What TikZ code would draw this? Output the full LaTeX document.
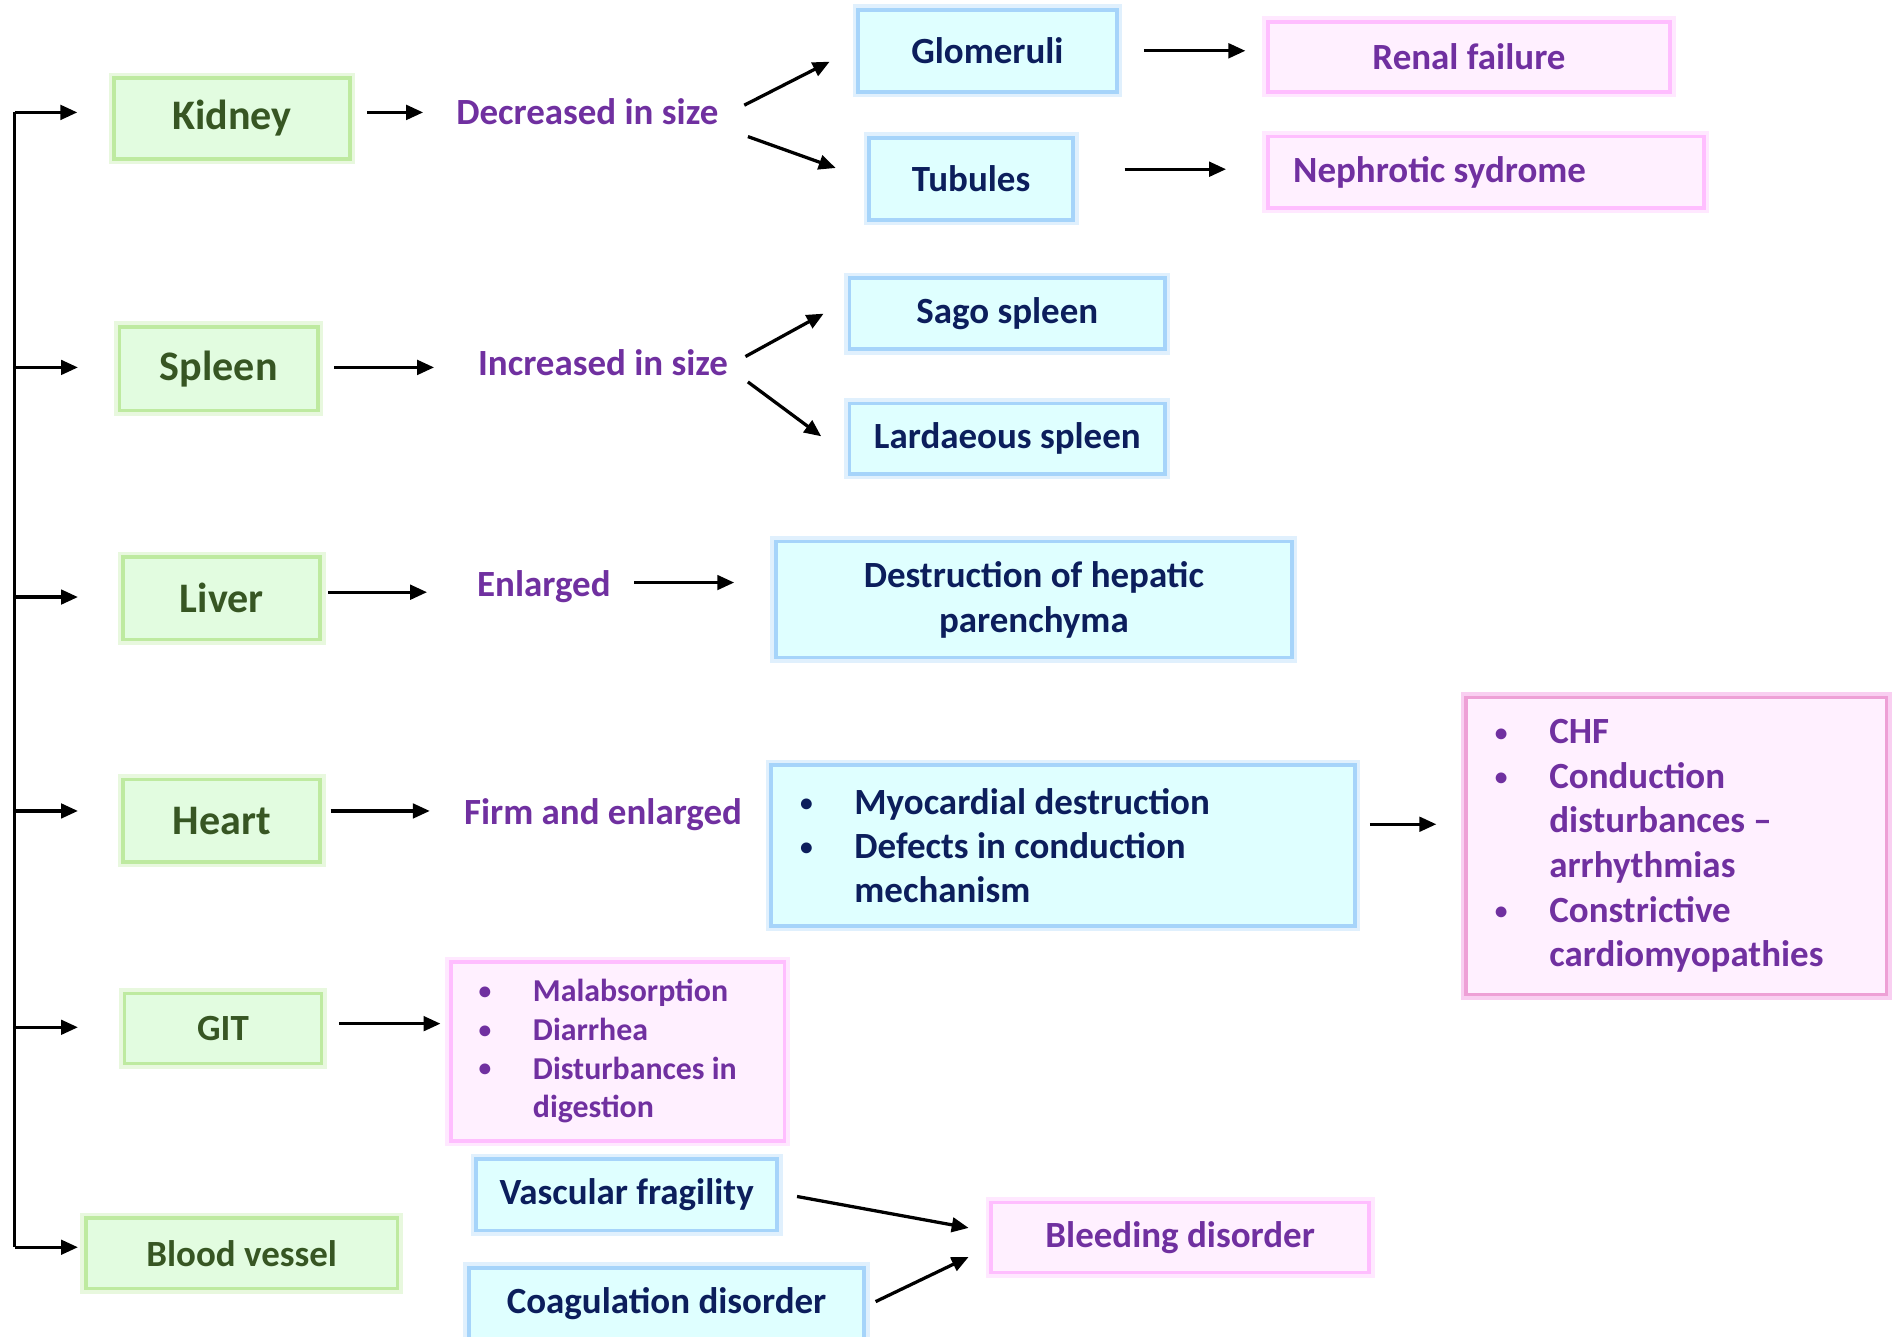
\documentclass[tikz,border=0pt]{standalone}
\usepackage{fontspec}
\setmainfont{Carlito}
\usetikzlibrary{arrows.meta,positioning,calc}
\definecolor{organfill}{RGB}{226,252,224}
\definecolor{organedge}{RGB}{190,234,160}
\definecolor{organtext}{RGB}{55,86,35}
\definecolor{findfill}{RGB}{223,255,255}
\definecolor{findedge}{RGB}{166,212,250}
\definecolor{findtext}{RGB}{12,30,92}
\definecolor{outfill}{RGB}{255,240,255}
\definecolor{outedge}{RGB}{255,190,255}
\definecolor{outstrong}{RGB}{238,160,214}
\definecolor{outtext}{RGB}{112,48,160}
\newcommand{\itm}{\makebox[4.5mm][l]{\raisebox{.15ex}{\fontsize{6}{6}\selectfont\textbullet}}}
\newcommand{\gap}{\hspace*{4.5mm}}
\tikzset{
  box/.style={line width=.3mm,inner sep=0pt,align=center},
  organ/.style={box,draw=organedge,fill=organfill,text=organtext,
                preaction={draw=organedge,draw opacity=.35,line width=.9mm},
                font=\bfseries\fontsize{9.9}{12}\selectfont},
  finding/.style={box,draw=findedge,fill=findfill,text=findtext,
                  preaction={draw=findedge,draw opacity=.35,line width=.9mm},
                  font=\bfseries\fontsize{8.7}{10.6}\selectfont},
  outcome/.style={box,draw=outedge,fill=outfill,text=outtext,
                  preaction={draw=outedge,draw opacity=.35,line width=.9mm},
                  font=\bfseries\fontsize{8.7}{10.6}\selectfont},
  change/.style={text=outtext,font=\bfseries\fontsize{8.7}{10.6}\selectfont},
  arr/.style={-{Triangle[length=1.4mm,width=1.2mm]},line width=.27mm},
}
\begin{document}
\begin{tikzpicture}[x=.1mm,y=-.1mm]
  \useasboundingbox (0,0) rectangle (1568,1106);
  % organs
  \node[organ,minimum width=19.5mm,minimum height=6.7mm] (kidney) at (192,98) {Kidney};
  \node[organ,minimum width=16.4mm,minimum height=6.9mm] (spleen) at (181,305) {Spleen};
  \node[organ,minimum width=16.3mm,minimum height=6.8mm] (liver) at (183.5,495) {Liver};
  \node[organ,minimum width=16.3mm,minimum height=6.8mm] (heart) at (183.5,679) {Heart};
  \node[organ,minimum width=16.3mm,minimum height=5.8mm,font=\bfseries\fontsize{8.7}{10.6}\selectfont]
    (git) at (184.5,851) {GIT};
  \node[organ,minimum width=25.8mm,minimum height=5.8mm,font=\bfseries\fontsize{8.7}{10.6}\selectfont]
    (vessel) at (200,1037) {Blood vessel};
  % trunk
  \coordinate (top) at (12,93);
  \coordinate (bot) at (12,1032);
  \draw[line width=.25mm] (top) -- (bot);
  \foreach \o/\y/\s in {kidney/93/2.9,spleen/304/3.3,liver/494/3.6,heart/671/3.6,
                        git/850/3.7,vessel/1032/.5}
    {\coordinate (b\o) at (12,\y);
     \draw[arr,shorten >=\s mm] (b\o) -- (\o.west |- b\o);}
  % kidney
  \node[change] (decr) at (486,92) {Decreased in size};
  \node[finding,minimum width=21.4mm,minimum height=6.8mm] (glom) at (817,42) {Glomeruli};
  \node[finding,minimum width=16.9mm,minimum height=6.8mm] (tub) at (803.5,148) {Tubules};
  \node[outcome,minimum width=33.3mm,minimum height=5.8mm] (renal) at (1215.5,47) {Renal failure};
  \node[outcome,minimum width=36.1mm,minimum height=5.9mm,align=flush left,text width=31.9mm,
        inner xsep=2.1mm] (nephro) at (1229.5,142.5) {Nephrotic sydrome};
  \draw[arr] ($(kidney.east)+(13,-5)$) -- ($(decr.west)+(-15,1)$);
  \draw[arr] ($(decr.east)+(9,-5)$) -- ($(glom.west)+(-22,9)$);
  \draw[arr] ($(decr.east)+(12,21)$) -- ($(tub.west)+(-26,-9)$);
  \draw[arr] ($(glom.east)+(21,0)$) -- ($(renal.west)+(-17,-5)$);
  \draw[arr] ($(tub.east)+(41,-8)$) -- ($(nephro.west)+(-33,-2.5)$);
  % spleen
  \node[change] (incr) at (499,300) {Increased in size};
  \node[finding,minimum width=26.1mm,minimum height=5.9mm] (sago) at (833.5,259.5) {Sago spleen};
  \node[finding,minimum width=26.1mm,minimum height=5.8mm] (lard) at (833.5,363) {Lardaeous spleen};
  \draw[arr] ($(spleen.east)+(12,-1)$) -- ($(incr.west)+(-24,4)$);
  \draw[arr] ($(incr.east)+(2,-5)$) -- ($(sago.west)+(-20,0)$);
  \draw[arr] ($(incr.east)+(4,16)$) -- ($(lard.west)+(-22,-2)$);
  % liver
  \node[change] (enl) at (450,485) {Enlarged};
  \node[finding,minimum width=42.7mm,minimum height=9.6mm] (hep) at (855.5,496)
    {Destruction of hepatic\\parenchyma};
  \draw[arr] ($(liver.east)+(5,-5)$) -- ($(enl.west)+(-29,5)$);
  \draw[arr] ($(enl.east)+(7,-3)$) -- ($(hep.west)+(-33,-14)$);
  % heart
  \node[change] (firm) at (499,674) {Firm and enlarged};
  \node[finding,minimum width=48.3mm,minimum height=13.3mm,align=flush left,text width=43.5mm,
        inner xsep=2.4mm,font=\bfseries\fontsize{8.7}{10.4}\selectfont] (myo) at (879.5,699.5)
    {\itm Myocardial destruction\\\itm Defects in conduction\\\gap mechanism};
  \node[outcome,draw=outstrong,preaction={draw=outstrong,draw opacity=.35,line width=.9mm},
        minimum width=34.8mm,minimum height=24.6mm,align=flush left,text width=30mm,
        inner xsep=2.4mm,font=\bfseries\fontsize{8.7}{10.5}\selectfont] (heartout) at (1387,700)
    {\itm CHF\\\itm Conduction\\\gap disturbances --\\\gap arrhythmias\\
     \itm Constrictive\\\gap cardiomyopathies};
  \draw[arr] ($(heart.east)+(7,-8)$) -- ($(firm.west)+(-16,-3)$);
  \draw[arr] ($(myo.east)+(11,-17.5)$) -- ($(heartout.west)+(-23,-18)$);
  % git
  \node[outcome,minimum width=27.6mm,minimum height=14.8mm,align=flush left,text width=23mm,
        inner xsep=2.3mm,font=\bfseries\fontsize{7.5}{9.1}\selectfont] (gitout) at (511,870)
    {\itm Malabsorption\\\itm Diarrhea\\\itm Disturbances in\\\gap digestion};
  \draw[arr] ($(git.east)+(13,-4)$) -- ($(gitout.west)+(-7,-23)$);
  % blood vessel
  \node[finding,minimum width=24.9mm,minimum height=5.9mm] (vasc) at (518.5,988.5) {Vascular fragility};
  \node[finding,minimum width=32.7mm,minimum height=6mm] (coag) at (551.5,1079) {Coagulation disorder};
  \node[outcome,minimum width=31.3mm,minimum height=5.8mm] (bleed) at (976.5,1024) {Bleeding disorder};
  \draw[arr] ($(vasc.east)+(15,1.5)$) -- ($(bleed.west)+(-17,-8)$);
  \draw[arr] ($(coag.east)+(8,-2)$) -- ($(bleed.west)+(-17,16)$);
\end{tikzpicture}
\end{document}
